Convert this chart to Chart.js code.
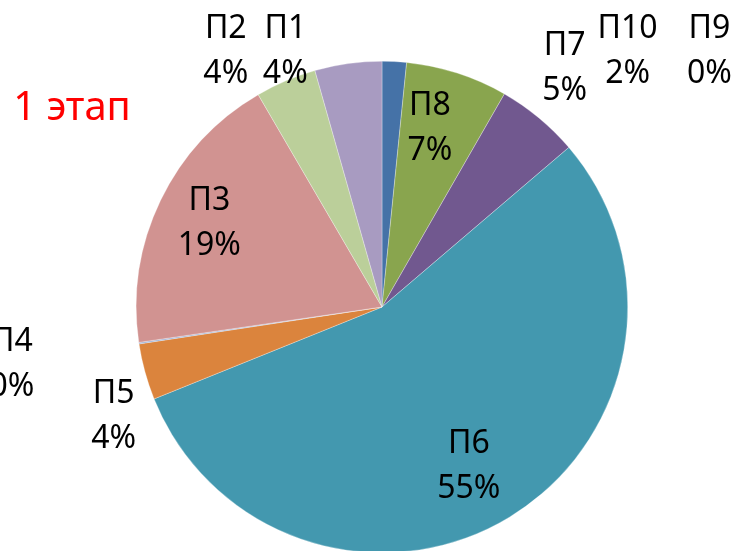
<!DOCTYPE html>
<html>
<head>
<meta charset="utf-8">
<script src="https://cdn.jsdelivr.net/npm/chart.js@4.4.1/dist/chart.umd.min.js"></script>
<style>
  html, body { margin: 0; padding: 0; background: #fff; overflow: hidden; }
  #wrap { position: absolute; left: 0; top: 0; width: 737px; height: 600px; }
</style>
</head>
<body>
<div id="wrap"><canvas id="pieCanvas" width="737" height="600"></canvas></div>
<script>
// slices, in the order they run anticlockwise from 12 o'clock
const categories = ['П1', 'П2', 'П3', 'П4', 'П5', 'П6', 'П7', 'П8', 'П9', 'П10'];
const shares = [4.4, 4.0, 18.9, 0.1, 3.7, 55.15, 5.45, 6.7, 0, 1.6];
const colors = ['#A89BC1', '#BBCF9A', '#D19391', '#9BB0D6', '#DB843D',
                '#4398AF', '#71588F', '#89A54E', '#AA4643', '#4572A7'];
const chartTitle = '1 этап';

// where Excel's "best fit" put each label: [angle from top, clockwise, deg; distance / radius]
const labelLayout = [
  [339.3, 1.113], [328.6, 1.220], [295.9, 0.781], [261.2, 1.524], [247.85, 1.179],
  [151.3, 0.736], [37.4, 1.224], [15.0, 0.754], [52.0, 1.691], [43.8, 1.444]
];

// Chart.js goes clockwise, so feed the slices back to front
const order = categories.map((_, i) => categories.length - 1 - i);
const total = shares.reduce((a, b) => a + b, 0);

const labelPlugin = {
  id: 'pieLabels',
  afterDatasetsDraw(chart) {
    const ctx = chart.ctx;
    const arcs = chart.getDatasetMeta(0).data;
    const cx = arcs[0].x, cy = arcs[0].y, r = arcs[0].outerRadius;
    ctx.save();
    ctx.fillStyle = '#000';
    ctx.font = '32px "Noto Sans", sans-serif';
    ctx.textAlign = 'center';
    ctx.textBaseline = 'middle';
    order.forEach((src, i) => {
      const [deg, f] = labelLayout[src];
      const a = deg * Math.PI / 180;
      const x = cx + Math.sin(a) * r * f;
      const y = cy - Math.cos(a) * r * f;
      const pct = Math.round(chart.data.datasets[0].data[i] / total * 100) + '%';
      ctx.fillText(chart.data.labels[i], x, y - 22);
      ctx.fillText(pct, x, y + 23);
    });
    ctx.fillStyle = '#FF0000';
    ctx.font = '40px "Noto Sans", sans-serif';
    ctx.fillText(chartTitle, 72, 109);
    ctx.restore();
  }
};

const ctx = document.getElementById('pieCanvas').getContext('2d');
const chart = new Chart(ctx, {
  type: 'pie',
  data: {
    labels: order.map(i => categories[i]),
    datasets: [{
      data: order.map(i => shares[i]),
      backgroundColor: order.map(i => colors[i]),
      borderColor: 'rgba(255,255,255,0.6)',
      borderWidth: 0.5,
    }]
  },
  options: {
    responsive: false,
    animation: false,
    layout: { padding: { left: 136, right: 109, top: 61, bottom: 47 } },
    plugins: {
      legend: { display: false },
      tooltip: { enabled: false },
      title: { display: false }
    }
  },
  plugins: [labelPlugin]
});
</script>
</body>
</html>
